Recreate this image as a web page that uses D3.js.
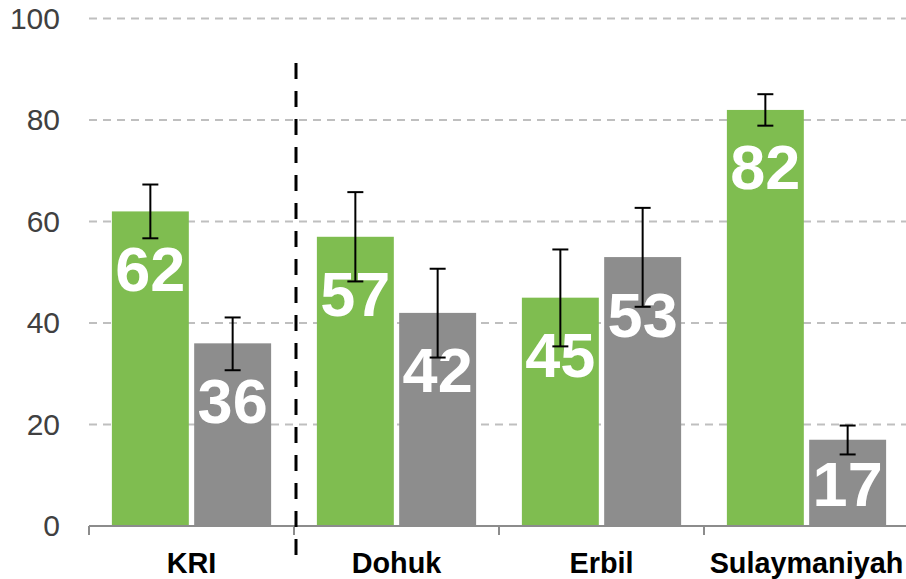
<!DOCTYPE html>
<html>
<head>
<meta charset="utf-8">
<script src="https://cdnjs.cloudflare.com/ajax/libs/d3/7.8.5/d3.min.js"></script>
<style>
	body { margin: 0; background: #fff; }
	svg { display: block; font-family: "Liberation Sans", Arial, sans-serif; }
</style>
</head>
<body>
<div id="chart"></div>
<script>
//Data
var categories = ["KRI", "Dohuk", "Erbil", "Sulaymaniyah"];
var series = ["green", "grey"];
var greenValues = [62, 57, 45, 82];
var greyValues = [36, 42, 53, 17];
var greenLow = [56.7, 48.2, 35.4, 78.9];
var greenHigh = [67.3, 65.8, 54.5, 85.1];
var greyLow = [30.7, 33.2, 43.2, 14.1];
var greyHigh = [41.1, 50.7, 62.7, 19.8];
var yTicks = [0, 20, 40, 60, 80, 100];

var width = 906,
	height = 579;

var colors = { green: "#7fbd50", grey: "#8d8d8d" };

var svg = d3.select("#chart")
	.append("svg")
	.attr("width", width)
	.attr("height", height);

///////////////////////////////////////////////////////////////////////////
//////////////////////////////// Scales ///////////////////////////////////
///////////////////////////////////////////////////////////////////////////

var x0 = d3.scaleBand()
	.domain(categories)
	.range([89, 909])
	.padding(0);

var x1 = d3.scaleBand()
	.domain(series)
	.range([0, x0.bandwidth()])
	.paddingInner(0.065)
	.paddingOuter(0.278);

var y = d3.scaleLinear()
	.domain([0, 100])
	.range([526, 18.6]);

//Build rows from the arrays
var data = [];
categories.forEach(function(c, i) {
	data.push({ cat: c, s: "green", v: greenValues[i], lo: greenLow[i], hi: greenHigh[i] });
	data.push({ cat: c, s: "grey", v: greyValues[i], lo: greyLow[i], hi: greyHigh[i] });
});

///////////////////////////////////////////////////////////////////////////
////////////////////////////// Grid & axes ////////////////////////////////
///////////////////////////////////////////////////////////////////////////

svg.append("g").selectAll(".grid")
	.data(yTicks.filter(function(d) { return d > 0; }))
	.enter().append("line")
	.attr("class", "grid")
	.attr("x1", 89)
	.attr("x2", width)
	.attr("y1", function(d) { return y(d); })
	.attr("y2", function(d) { return y(d); })
	.style("stroke", "#bfbfbf")
	.style("stroke-width", 2)
	.style("stroke-dasharray", "8,6");

var yAxis = svg.append("g")
	.attr("transform", "translate(72,0)")
	.call(d3.axisLeft(y).tickValues(yTicks).tickSize(0).tickPadding(12));
yAxis.select(".domain").remove();
yAxis.selectAll("text")
	.style("font-family", "'Liberation Sans', Arial, sans-serif")
	.style("font-size", "30px")
	.style("fill", "#404040");

///////////////////////////////////////////////////////////////////////////
///////////////////////////////// Bars ////////////////////////////////////
///////////////////////////////////////////////////////////////////////////

svg.append("g").selectAll(".bar")
	.data(data)
	.enter().append("rect")
	.attr("class", "bar")
	.attr("x", function(d) { return x0(d.cat) + x1(d.s); })
	.attr("y", function(d) { return y(d.v); })
	.attr("width", x1.bandwidth())
	.attr("height", function(d) { return y(0) - y(d.v); })
	.style("fill", function(d) { return colors[d.s]; });

//Value labels inside the bar end (centred when the bar is short)
svg.append("g").selectAll(".label")
	.data(data)
	.enter().append("text")
	.attr("class", "label")
	.attr("x", function(d) { return x0(d.cat) + x1(d.s) + x1.bandwidth() / 2; })
	.attr("y", function(d) {
		var top = y(d.v) + 79.5,
			mid = (y(d.v) + y(0)) / 2 + 23;
		return Math.min(top, mid);
	})
	.attr("text-anchor", "middle")
	.style("font-size", "63px")
	.style("font-weight", "bold")
	.style("fill", "#fff")
	.text(function(d) { return d.v; });

//Error bars
var err = svg.append("g").selectAll(".err")
	.data(data)
	.enter().append("g")
	.attr("class", "err")
	.attr("transform", function(d) { return "translate(" + (x0(d.cat) + x1(d.s) + x1.bandwidth() / 2) + ",0)"; })
	.style("stroke", "#000")
	.style("stroke-width", 2);

err.append("line")
	.attr("y1", function(d) { return y(d.lo); })
	.attr("y2", function(d) { return y(d.hi); });
err.append("line")
	.attr("x1", -8).attr("x2", 8)
	.attr("y1", function(d) { return y(d.hi); })
	.attr("y2", function(d) { return y(d.hi); });
err.append("line")
	.attr("x1", -8).attr("x2", 8)
	.attr("y1", function(d) { return y(d.lo); })
	.attr("y2", function(d) { return y(d.lo); });

///////////////////////////////////////////////////////////////////////////
//////////////////////////////// X axis ///////////////////////////////////
///////////////////////////////////////////////////////////////////////////

svg.append("line")
	.attr("x1", 89).attr("x2", width)
	.attr("y1", y(0)).attr("y2", y(0))
	.style("stroke", "#8c8c8c")
	.style("stroke-width", 2);

svg.append("g").selectAll(".xtick")
	.data(categories.concat(["end"]))
	.enter().append("line")
	.attr("class", "xtick")
	.attr("x1", function(d, i) { return x0.range()[0] + i * x0.step(); })
	.attr("x2", function(d, i) { return x0.range()[0] + i * x0.step(); })
	.attr("y1", y(0)).attr("y2", y(0) + 9)
	.style("stroke", "#8c8c8c")
	.style("stroke-width", 2);

svg.append("g").selectAll(".xlabel")
	.data(categories)
	.enter().append("text")
	.attr("class", "xlabel")
	.attr("x", function(d) { return x0(d) + x0.bandwidth() / 2; })
	.attr("y", 573)
	.attr("text-anchor", "middle")
	.style("font-size", "28.8px")
	.style("font-weight", "bold")
	.style("fill", "#000")
	.text(function(d) { return d; });

//Dashed separator between KRI and the governorates
svg.append("line")
	.attr("x1", 296).attr("x2", 296)
	.attr("y1", 63).attr("y2", 560)
	.style("stroke", "#000")
	.style("stroke-width", 3)
	.style("stroke-dasharray", "16,12");
</script>
</body>
</html>
